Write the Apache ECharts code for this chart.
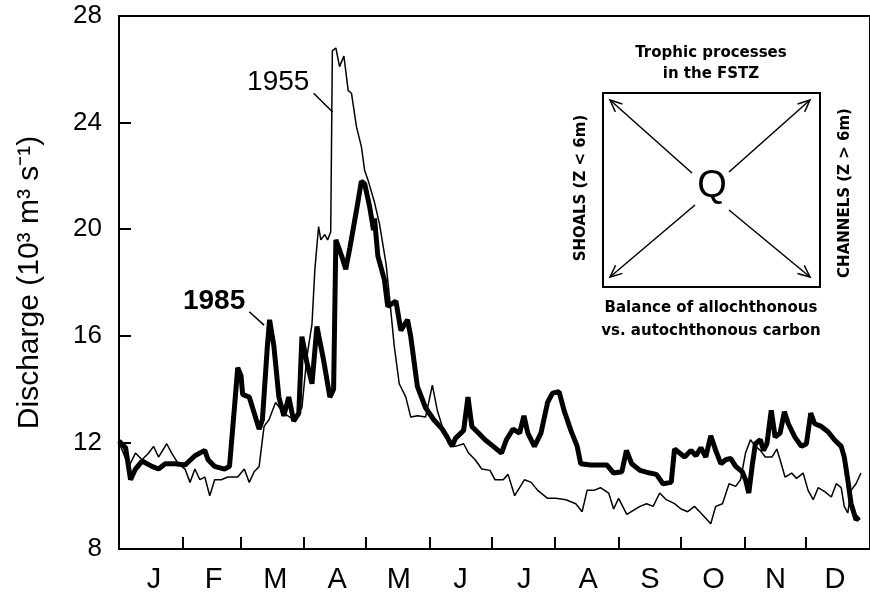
<!DOCTYPE html>
<html>
<head>
<meta charset="utf-8">
<script src="https://cdn.jsdelivr.net/npm/echarts@6/dist/echarts.min.js"></script>
<style>
html,body{margin:0;padding:0;background:#fff;}
#chart{width:870px;height:598px;}
</style>
</head>
<body>
<div id="chart"></div>
<script>
// month letters, tick positions (day of year) and label positions
var months = ['J','F','M','A','M','J','J','A','S','O','N','D'];
var monthEdges = [31,59,90,120,151,181,212,243,273,304,334];
var monthMids = [17,46,76,106,136,166,197,228,258,289,319,348];
var yTicks = [8,12,16,20,24,28];

// daily discharge, 10^3 m3/s, [day of year, value]
var flow1985 = [
	[0,12.05],[3.2,11.8],[5.6,10.6],[8,11.0],[11.2,11.3],[16,11.1],[19.2,11.0],[22.5,11.2],
	[27.3,11.2],[32.1,11.15],[36.9,11.5],[41.7,11.7],[43.3,11.35],[46.5,11.1],[51.3,11.0],
	[53.7,11.1],[56.1,13.3],[57.7,14.8],[59.3,14.5],[60.1,13.8],[63.3,13.7],[65.7,13.1],
	[68.1,12.5],[69.7,12.85],[72.1,15.6],[73.2,16.6],[75.3,15.6],[77.7,13.7],[80.1,13.0],
	[82.5,13.7],[84.9,12.8],[87.4,13.1],[88.9,15.97],[91.3,15.0],[93.8,14.2],[96.2,16.35],
	[99.4,15.1],[102.5,13.7],[104.3,14.0],[105.4,19.6],[108.2,19.0],[110.2,18.5],[112.2,19.3],
	[115.4,20.7],[117.8,21.8],[119.4,21.7],[121.8,20.85],[123.7,19.97],[124.2,20.4],[125.8,19.0],
	[129,18.1],[130.6,17.1],[134.6,17.3],[137,16.2],[140.2,16.6],[141.8,15.97],[145,14.1],
	[149,13.3],[153,12.85],[157.1,12.5],[159.5,12.2],[161.9,11.85],[163.5,12.15],[167.5,12.45],
	[169.6,13.7],[171.5,12.6],[174.7,12.35],[177.9,12.1],[181.9,11.85],[185.9,11.6],[188.3,12.1],
	[191.5,12.5],[194.7,12.35],[196.8,13.0],[198.7,12.35],[201.9,11.85],[205.1,12.35],[208.3,13.5],
	[210.7,13.85],[213.9,13.9],[216.3,13.2],[219.6,12.45],[222.7,11.85],[224.4,11.2],[229.2,11.15],
	[237.2,11.15],[240.4,10.85],[244.4,10.9],[246.6,11.7],[249.2,11.2],[253.2,10.95],[258,10.85],
	[261.2,10.8],[264.4,10.45],[268.4,10.5],[270,11.75],[272.5,11.6],[274.9,11.45],[278,11.7],
	[280.4,11.5],[282.8,11.8],[285.2,11.45],[287.6,12.25],[290,11.7],[292.5,11.2],[294.9,11.35],
	[297.3,11.4],[299.7,11.1],[302.9,10.9],[304.5,10.6],[306.1,10.1],[307.7,11.1],[309.3,11.95],
	[311.7,12.1],[313.3,11.7],[314.9,11.95],[317,13.2],[318.9,12.2],[321.3,12.35],[323.4,13.15],
	[325.3,12.7],[328.5,12.2],[331.7,11.85],[334.1,11.95],[336.2,13.1],[338.1,12.7],[341.3,12.6],
	[344.6,12.4],[347.7,12.1],[351,11.85],[352.5,11.45],[354.2,10.6],[355.8,9.7],[358.2,9.1],
	[359.8,9.2]
];

var flow1955 = [
	[0,12.0],[4.8,11.1],[8,11.6],[11.2,11.35],[14.4,11.6],[16.8,11.85],[19.2,11.45],[23.2,11.95],
	[25.6,11.6],[28.8,11.2],[32.1,11.0],[34.5,10.5],[36.9,11.0],[39.3,10.6],[41.7,10.7],[44.1,10.0],
	[46.5,10.6],[49.7,10.6],[52.9,10.7],[57.7,10.7],[60.9,11.0],[63.3,10.5],[65.7,10.9],[68.1,11.1],
	[70.5,12.6],[72.9,12.85],[76.1,13.5],[80.1,13.1],[84.9,12.85],[88.9,13.3],[91.3,15.2],
	[93.8,16.45],[95.2,18.5],[97,20.1],[98.1,19.6],[100,19.8],[101.4,19.6],[102.9,19.9],
	[103.7,26.7],[105.4,26.8],[107.2,26.1],[109.3,26.5],[111.4,25.2],[113,25.1],[115.4,23.85],
	[117.8,23.1],[119.4,22.2],[121,21.85],[124.2,21.0],[126.6,20.2],[129.8,18.7],[131.4,17.5],
	[133.8,15.6],[136.2,14.2],[139.4,13.7],[141.8,12.95],[145.2,13.0],[149,12.95],[152.3,14.15],
	[154.7,13.2],[157.1,12.6],[160.2,11.95],[163.5,11.85],[167.5,11.95],[169.9,11.6],[173.1,11.35],
	[176.3,11.0],[180.3,10.95],[182.7,10.6],[186.7,10.6],[189.1,10.8],[192.3,10.0],[197.1,10.6],
	[200.3,10.5],[203.5,10.2],[208.3,9.9],[212.4,9.9],[217.2,9.85],[222,9.7],[225.1,9.4],
	[227.5,10.2],[230.8,10.2],[234,10.3],[238,10.1],[240.4,9.5],[242.8,9.9],[246.8,9.3],
	[250,9.45],[253.2,9.6],[256.4,9.7],[259.6,9.6],[262.8,10.1],[266,9.85],[270,9.7],[273.2,9.5],
	[276.4,9.4],[279.7,9.6],[282.8,9.35],[287.6,8.95],[290,9.6],[293.3,9.7],[296.5,10.45],
	[299.7,10.35],[302.1,10.6],[304.5,11.6],[306.9,12.1],[309.3,11.85],[311.7,11.7],[314.1,11.45],
	[317.3,11.45],[319.7,11.75],[321.3,11.35],[323.7,10.7],[326.9,10.85],[329.3,10.65],[332.5,10.85],
	[334.9,10.2],[337.4,9.85],[339.8,10.3],[343,10.15],[346.2,9.95],[348.6,10.45],[351,10.3],
	[352.5,9.6],[354.2,9.35],[355.8,10.2],[358.2,10.45],[360.6,10.85]
];

var FONT = '"Liberation Sans", Arial, sans-serif';
var BOLD = '"DejaVu Sans", sans-serif';

function arrow(x1,y1,x2,y2){
	var a = Math.atan2(y2-y1,x2-x1);
	var len = 13, sp = 0.42;
	return [
		{type:'line',shape:{x1:x1,y1:y1,x2:x2,y2:y2},style:{stroke:'#000',lineWidth:1.5}},
		{type:'polyline',shape:{points:[
			[x2-len*Math.cos(a-sp),y2-len*Math.sin(a-sp)],[x2,y2],
			[x2-len*Math.cos(a+sp),y2-len*Math.sin(a+sp)]]},
			style:{stroke:'#000',lineWidth:1.5,fill:null}}
	];
}

function label(text,x,y,rot){
	return {type:'text',x:x,y:y,rotation:rot||0,
		style:{text:text,fontSize:15,fontWeight:'bold',fontFamily:BOLD,fill:'#000',
			textAlign:'center',textVerticalAlign:'middle',align:'center',verticalAlign:'middle'}};
}

var inset = [
	{type:'rect',shape:{x:603,y:93,width:217,height:194},style:{stroke:'#000',lineWidth:2,fill:null}},
	label('Trophic processes',711,53),
	label('in the FSTZ',711,74),
	label('Balance of allochthonous',711,308),
	label('vs. autochthonous carbon',711,331),
	label('SHOALS (Z < 6m)',581,188,Math.PI/2),
	label('CHANNELS (Z > 6m)',845,193,Math.PI/2),
	{type:'text',x:712,y:187,style:{text:'Q',fontSize:38,fontFamily:FONT,fill:'#000',
		textAlign:'center',textVerticalAlign:'middle',align:'center',verticalAlign:'middle'}}
].concat(arrow(692,173,610,100),arrow(729,172,810,100),arrow(695,205,610,277),arrow(729,210,810,277));

var myChart = echarts.init(document.getElementById('chart'));
myChart.setOption({
	animation:false,
	backgroundColor:'#fff',
	grid:{left:119,top:16,width:759,height:533,show:true,borderColor:'#000',borderWidth:2},
	xAxis:{
		type:'value',min:0,max:365,
		axisLine:{lineStyle:{color:'#000',width:2}},
		axisTick:{inside:true,length:12,lineStyle:{color:'#000',width:2},customValues:monthEdges},
		axisLabel:{
			customValues:monthMids,margin:16,
			fontSize:29,fontFamily:FONT,color:'#000',
			formatter:function(v){return months[monthMids.indexOf(v)];}
		},
		splitLine:{show:false}
	},
	yAxis:{
		type:'value',min:8,max:28,interval:4,
		name:'Discharge (10³ m³ s⁻¹)',nameLocation:'middle',nameRotate:90,nameGap:74,
		nameTextStyle:{fontSize:30,fontFamily:FONT,color:'#000'},
		axisLine:{show:true,lineStyle:{color:'#000',width:2}},
		axisTick:{show:true,inside:true,length:12,lineStyle:{color:'#000',width:2}},
		axisLabel:{fontSize:26,fontFamily:FONT,color:'#000',margin:17},
		splitLine:{show:false}
	},
	series:[
		{
			name:'1985',type:'line',data:flow1985,symbol:'none',
			lineStyle:{color:'#000',width:5},
			markLine:{silent:true,symbol:'none',label:{show:false},
				lineStyle:{color:'#000',width:1.5,type:'solid'},
				data:[[{coord:[63.3,16.9]},{coord:[70.5,16.4]}]]},
			markPoint:{silent:true,symbol:'circle',symbolSize:0,
				label:{show:true,position:'inside',formatter:'1985',fontSize:28,fontWeight:'bold',fontFamily:FONT,color:'#000'},
				data:[{coord:[46.2,17.28]}]}
		},
		{
			name:'1955',type:'line',data:flow1955,symbol:'none',
			lineStyle:{color:'#000',width:1.5},
			markLine:{silent:true,symbol:'none',label:{show:false},
				lineStyle:{color:'#000',width:1.5,type:'solid'},
				data:[[{coord:[94.6,25.1]},{coord:[103.8,24.4]}]]},
			markPoint:{silent:true,symbol:'circle',symbolSize:0,
				label:{show:true,position:'inside',formatter:'1955',fontSize:28,fontFamily:FONT,color:'#000'},
				data:[{coord:[77.4,25.5]}]}
		}
	],
	graphic:inset
});
</script>
</body>
</html>
